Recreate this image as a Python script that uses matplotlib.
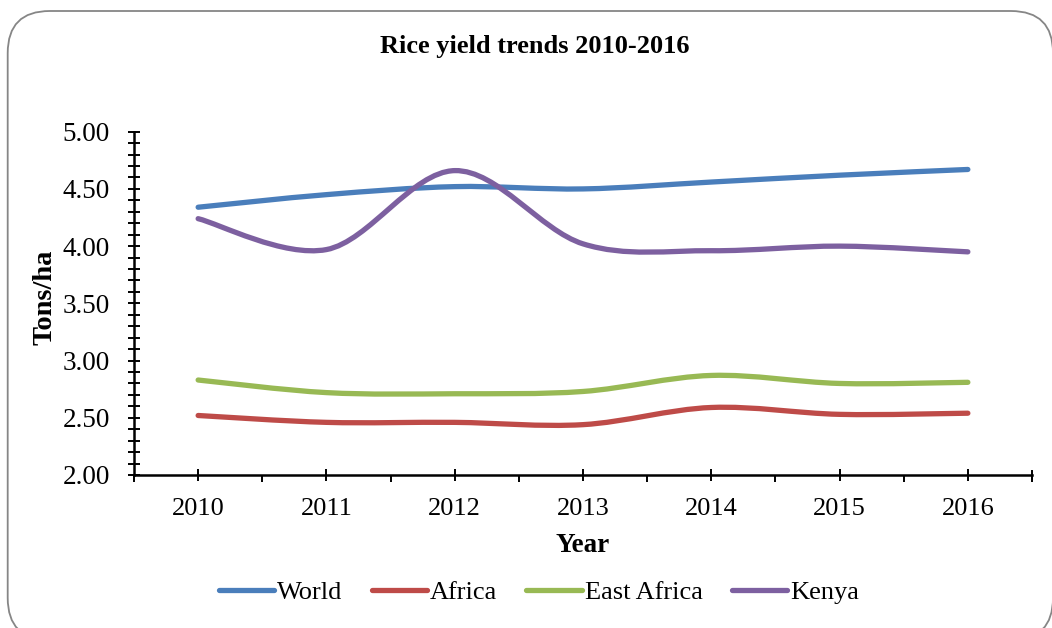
import matplotlib
matplotlib.use("Agg")
import matplotlib.pyplot as plt
from matplotlib.path import Path
from matplotlib.patches import PathPatch, FancyBboxPatch
from matplotlib.lines import Line2D
from matplotlib.ticker import MultipleLocator, FixedLocator, FormatStrFormatter
import numpy as np

# ---- data ----
years = ["2010", "2011", "2012", "2013", "2014", "2015", "2016"]
world = [4.34, 4.45, 4.52, 4.50, 4.56, 4.62, 4.67]
africa = [2.52, 2.46, 2.46, 2.44, 2.59, 2.53, 2.54]
east_africa = [2.83, 2.72, 2.71, 2.73, 2.87, 2.80, 2.81]
kenya = [4.24, 3.97, 4.66, 4.02, 3.96, 4.00, 3.95]

series_names = ["World", "Africa", "East Africa", "Kenya"]
series_values = [world, africa, east_africa, kenya]
series_colors = ["#4A7EBB", "#BE4B48", "#98B954", "#7D60A0"]

plt.rcParams["font.family"] = ["Liberation Serif", "DejaVu Serif"]

W, H, DPI = 1052, 628, 100
fig = plt.figure(figsize=(W / DPI, H / DPI), dpi=DPI)
fig.patch.set_facecolor("white")


def px(x0, y0, x1, y1):
    """Pixel box (top-left origin) -> figure fraction rect."""
    return [x0 / W, 1 - y1 / H, (x1 - x0) / W, (y1 - y0) / H]


# rounded chart-area border (runs slightly past the right and bottom edges)
fx0, fy0, fx1, fy1 = 7.7, 11.0, 1053.0, 640.0
frame = FancyBboxPatch((fx0 / W, 1 - fy1 / H), (fx1 - fx0) / W, (fy1 - fy0) / H,
                       boxstyle="round,pad=0,rounding_size=0.04",
                       transform=fig.transFigure, facecolor="none",
                       edgecolor="#868686", linewidth=1.3, mutation_aspect=W / H,
                       clip_on=False)
fig.patches.append(frame)

ax = fig.add_axes(px(134, 131.7, 1032, 475))
ax.set_facecolor("none")

x = np.arange(len(years), dtype=float)


def smooth_path(xs, ys):
    """Catmull-Rom style cubic Bezier through all points."""
    pts = np.column_stack([xs, ys])
    n = len(pts)
    verts = [pts[0]]
    codes = [Path.MOVETO]
    for i in range(n - 1):
        p0 = pts[i - 1] if i > 0 else pts[i]
        p1 = pts[i]
        p2 = pts[i + 1]
        p3 = pts[i + 2] if i + 2 < n else pts[i + 1]
        c1 = p1 + (p2 - p0) / 6.0
        c2 = p2 - (p3 - p1) / 6.0
        verts += [c1, c2, p2]
        codes += [Path.CURVE4] * 3
    return Path(verts, codes)


for name, vals, col in zip(series_names, series_values, series_colors):
    patch = PathPatch(smooth_path(x, np.asarray(vals, dtype=float)),
                      facecolor="none", edgecolor=col, linewidth=3.8,
                      capstyle="round", joinstyle="round", zorder=3)
    ax.add_patch(patch)

ax.set_xlim(-0.5, len(years) - 0.5)
ax.set_ylim(2.0, 5.0)

for s in ["top", "right"]:
    ax.spines[s].set_visible(False)
for s in ["left", "bottom"]:
    ax.spines[s].set_linewidth(1.8)
    ax.spines[s].set_color("black")

ax.yaxis.set_major_locator(MultipleLocator(0.5))
ax.yaxis.set_minor_locator(MultipleLocator(0.1))
ax.yaxis.set_major_formatter(FormatStrFormatter("%.2f"))
ax.tick_params(axis="y", which="both", direction="inout", length=8.6,
               width=1.4, color="black")
ax.tick_params(axis="y", which="major", labelsize=19.5, pad=13)

ax.xaxis.set_major_locator(FixedLocator(x))
ax.set_xticklabels(years)
ax.xaxis.set_minor_locator(FixedLocator(np.arange(-0.5, len(years), 1.0)))
ax.tick_params(axis="x", which="major", direction="inout", length=8.6,
               width=1.4, labelsize=19, pad=12)
ax.tick_params(axis="x", which="minor", direction="out", length=5.2, width=1.4)

# closing tick at the right end of the category axis
ax.add_line(Line2D([1, 1], [-0.0125, 0.0125], transform=ax.transAxes,
                   color="black", linewidth=1.4, clip_on=False))

fig.text(535 / W, 1 - 47 / H, "Rice yield trends 2010-2016", ha="center",
         va="center", fontsize=19, fontweight="bold")
fig.text(583 / W, 1 - 545 / H, "Year", ha="center", va="center",
         fontsize=19.5, fontweight="bold")
fig.text(45 / W, 1 - 297 / H, "Tons/ha", ha="center", va="center",
         fontsize=20.5, fontweight="bold", rotation=90)

handles = [Line2D([], [], color=c, linewidth=3.8, solid_capstyle="round")
           for c in series_colors]
fig.legend(handles, series_names, loc="center", ncol=4, frameon=False,
           bbox_to_anchor=(539 / W, 1 - 592 / H), fontsize=19,
           handlelength=2.1, handletextpad=0.12, columnspacing=1.1,
           borderpad=0, borderaxespad=0)

fig.savefig("out.png", dpi=DPI, facecolor="white")
